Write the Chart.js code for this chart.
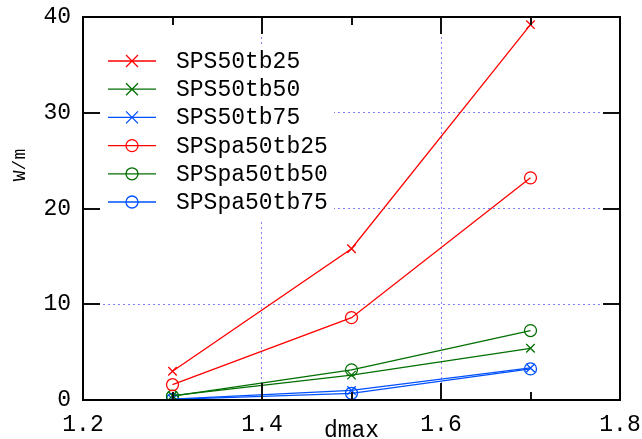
<!DOCTYPE html>
<html>
<head>
<meta charset="utf-8">
<script src="https://cdn.jsdelivr.net/npm/chart.js@4"></script>
<style>
  html, body { margin: 0; padding: 0; background: #fff; }
  #wrap { position: relative; width: 642px; height: 439px; }
  #frame { position: absolute; left: 82px; top: 16px; width: 539px; height: 385px;
           box-sizing: border-box; border: 2px solid #000; pointer-events: none; }
</style>
</head>
<body>
<div id="wrap"><canvas id="c" width="642" height="439"></canvas><div id="frame"></div></div>
<script>
// datos
const dmax = [1.3, 1.5, 1.7];
const sps50tb25 = [3.0, 15.8, 39.2];
const sps50tb50 = [0.45, 2.6, 5.4];
const sps50tb75 = [0.1, 1.0, 3.35];
const spspa50tb25 = [1.6, 8.6, 23.2];
const spspa50tb50 = [0.4, 3.15, 7.25];
const spspa50tb75 = [0.07, 0.7, 3.25];

const seriesNames = ['SPS50tb25','SPS50tb50','SPS50tb75','SPSpa50tb25','SPSpa50tb50','SPSpa50tb75'];
const xTitle = 'dmax';
const yTitle = 'W/m';

const RED = '#ff0000', GREEN = '#006f00', BLUE = '#0050ff';
const FONT = "'Liberation Mono', 'DejaVu Sans Mono', monospace";

function mkSet(label, vals, color, marker){
  return {
    label,
    data: vals.map((v,i)=>({x:dmax[i], y:v})),
    borderColor: color,
    backgroundColor: 'transparent',
    borderWidth: 1.3,
    pointStyle: marker,
    pointRadius: 6,
    pointBorderWidth: 1.3,
    pointBackgroundColor: 'transparent',
    pointBorderColor: color
  };
}

const datasets = [
  mkSet(seriesNames[0], sps50tb25, RED, 'crossRot'),
  mkSet(seriesNames[1], sps50tb50, GREEN, 'crossRot'),
  mkSet(seriesNames[2], sps50tb75, BLUE, 'crossRot'),
  mkSet(seriesNames[3], spspa50tb25, RED, 'circle'),
  mkSet(seriesNames[4], spspa50tb50, GREEN, 'circle'),
  mkSet(seriesNames[5], spspa50tb75, BLUE, 'circle')
];

// leyenda con caja blanca (tapa la rejilla)
const legendPlugin = {
  id: 'gpLegend',
  beforeDatasetsDraw(chart){
    const ctx = chart.ctx;
    ctx.save();
    ctx.fillStyle = '#fff';
    ctx.fillRect(86, 46, 248, 174);
    ctx.font = '23px ' + FONT;
    ctx.textBaseline = 'middle';
    ctx.textAlign = 'left';
    chart.data.datasets.forEach((ds,i)=>{
      const y = 61 + i*28.2;
      ctx.strokeStyle = ds.borderColor;
      ctx.lineWidth = 1.3;
      ctx.beginPath(); ctx.moveTo(108,y); ctx.lineTo(156,y); ctx.stroke();
      const r = 6;
      ctx.beginPath();
      if (ds.pointStyle === 'circle') {
        ctx.arc(132, y, r, 0, Math.PI*2);
      } else {
        ctx.moveTo(132-r,y-r); ctx.lineTo(132+r,y+r);
        ctx.moveTo(132-r,y+r); ctx.lineTo(132+r,y-r);
      }
      ctx.stroke();
      ctx.fillStyle = '#000';
      ctx.fillText(ds.label, 176, y+1);
    });
    ctx.restore();
  }
};

// marcas hacia dentro, estilo gnuplot, y título del eje y
const framePlugin = {
  id: 'gpFrame',
  afterDraw(chart){
    const ctx = chart.ctx;
    const xs = chart.scales.x, ys = chart.scales.y;
    const L = Math.round(xs.left), R = Math.round(xs.right);
    const T = Math.round(ys.top), B = Math.round(ys.bottom);
    ctx.save();
    ctx.fillStyle = '#101010';
    for (const t of xs.ticks) {
      const px = Math.round(xs.getPixelForValue(t.value));
      const len = (Math.round(t.value*10) % 2 === 0) ? 17 : 8;
      ctx.fillRect(px-1, B-len, 2, len);
      ctx.fillRect(px-1, T, 2, len);
    }
    for (const t of ys.ticks) {
      const py = Math.round(ys.getPixelForValue(t.value));
      ctx.fillRect(L, py-1, 17, 2);
      ctx.fillRect(R-17, py-1, 17, 2);
    }
    ctx.restore();
    ctx.save();
    ctx.translate(20, 165);
    ctx.rotate(-Math.PI/2);
    ctx.font = '18px ' + FONT;
    ctx.textAlign = 'center';
    ctx.textBaseline = 'middle';
    ctx.fillStyle = '#000';
    ctx.fillText(yTitle, 0, 0);
    ctx.restore();
  }
};

const gridColor = (vals) => (c) => (c.tick && vals.includes(Math.round(c.tick.value*10)/10)) ? '#8080ff' : 'rgba(0,0,0,0)';

function noPad(s){
  s.paddingTop = 0; s.paddingBottom = 0; s.paddingLeft = 0; s.paddingRight = 0;
}

new Chart(document.getElementById('c'), {
  type: 'line',
  data: { datasets },
  plugins: [legendPlugin, framePlugin],
  options: {
    responsive: false,
    animation: false,
    layout: { padding: { left: 0, top: 17, right: 22, bottom: 0 } },
    plugins: { legend: { display: false }, tooltip: { enabled: false } },
    scales: {
      x: {
        type: 'linear', min: 1.2, max: 1.8,
        afterFit(s){ s.height = 39; noPad(s); },
        ticks: {
          stepSize: 0.1, autoSkip: false, maxRotation: 0, padding: 11,
          color: '#000', font: { family: FONT, size: 23 },
          callback: v => Math.round(v*10) % 2 === 0 ? v.toFixed(1) : ''
        },
        grid: { color: gridColor([1.4, 1.6]), lineWidth: 1, drawTicks: false },
        border: { display: false, dash: [2, 3] },
        title: { display: true, text: xTitle, color: '#000', padding: 0,
                 font: { family: FONT, size: 23, lineHeight: 0.7 } }
      },
      y: {
        min: 0, max: 40,
        afterFit(s){ s.width = 83; noPad(s); },
        ticks: {
          stepSize: 10, padding: 12,
          color: '#000', font: { family: FONT, size: 23 }
        },
        grid: { color: gridColor([10, 20, 30]), lineWidth: 1, drawTicks: false },
        border: { display: false, dash: [2, 3] }
      }
    }
  }
});
</script>
</body>
</html>
